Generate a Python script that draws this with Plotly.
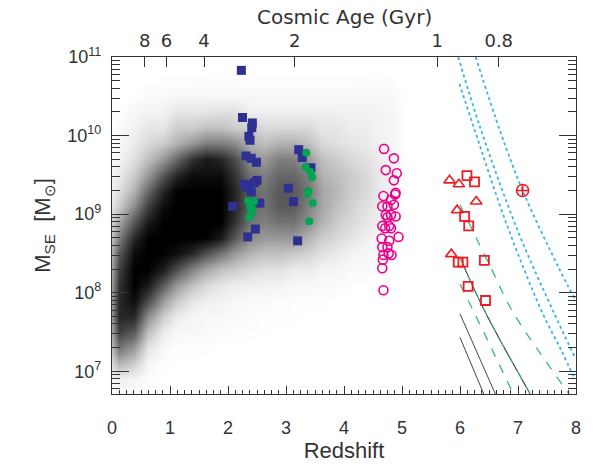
import math
import plotly.graph_objects as go

# ---------------- data ----------------
# density of the big black point cloud, coverage fraction 0..1
cloud_z = [-0.125 + 0.25 * i for i in range(22)]
cloud_logm = [round(6.7 + 0.2 * i, 2) for i in range(22)]
cloud_density = [
    [0, 0.02, 0.02, 0.005, 0, 0, 0, 0, 0, 0, 0, 0, 0, 0, 0, 0, 0, 0, 0, 0, 0, 0],
    [0, 0.06, 0.04, 0.01, 0.003, 0, 0, 0, 0, 0, 0, 0, 0, 0, 0, 0, 0, 0, 0, 0, 0, 0],
    [0, 0.3, 0.2, 0.04, 0.01, 0.005, 0.005, 0.003, 0.003, 0.002, 0, 0, 0, 0, 0, 0, 0, 0, 0, 0, 0, 0],
    [0, 0.55, 0.4, 0.1, 0.03, 0.01, 0.01, 0.01, 0.005, 0.005, 0.003, 0, 0, 0, 0, 0, 0, 0, 0, 0, 0, 0],
    [0, 0.75, 0.65, 0.25, 0.08, 0.03, 0.03, 0.02, 0.015, 0.01, 0.01, 0.008, 0.005, 0.005, 0.003, 0, 0, 0, 0, 0, 0, 0],
    [0, 0.85, 0.85, 0.45, 0.2, 0.08, 0.04, 0.03, 0.03, 0.02, 0.015, 0.01, 0.01, 0.01, 0.005, 0.005, 0.003, 0, 0, 0, 0, 0],
    [0, 0.85, 0.95, 0.7, 0.4, 0.2, 0.1, 0.06, 0.05, 0.03, 0.02, 0.02, 0.015, 0.01, 0.01, 0.01, 0.005, 0.003, 0, 0, 0, 0],
    [0, 0.8, 1.0, 0.9, 0.65, 0.4, 0.25, 0.15, 0.1, 0.07, 0.06, 0.05, 0.05, 0.03, 0.03, 0.02, 0.02, 0.01, 0.005, 0.003, 0, 0],
    [0, 0.75, 1.0, 1.0, 0.9, 0.7, 0.5, 0.35, 0.25, 0.2, 0.15, 0.12, 0.12, 0.08, 0.08, 0.04, 0.04, 0.02, 0.02, 0.008, 0.005, 0],
    [0, 0.65, 0.95, 1.0, 1.0, 0.95, 0.85, 0.7, 0.55, 0.4, 0.3, 0.25, 0.25, 0.22, 0.18, 0.12, 0.08, 0.05, 0.03, 0.015, 0.01, 0],
    [0, 0.5, 0.85, 1.0, 1, 1, 1, 1, 0.9, 0.65, 0.45, 0.4, 0.4, 0.4, 0.3, 0.2, 0.15, 0.1, 0.06, 0.03, 0.01, 0],
    [0, 0.35, 0.65, 0.9, 1, 1, 1, 1, 1, 0.8, 0.55, 0.5, 0.55, 0.55, 0.45, 0.3, 0.2, 0.15, 0.1, 0.05, 0.02, 0],
    [0, 0.2, 0.45, 0.75, 0.95, 1, 1, 1, 1, 0.85, 0.6, 0.55, 0.65, 0.65, 0.5, 0.35, 0.25, 0.18, 0.12, 0.07, 0.03, 0],
    [0, 0.12, 0.3, 0.6, 0.85, 1, 1, 1, 1, 0.85, 0.6, 0.55, 0.65, 0.65, 0.55, 0.35, 0.28, 0.2, 0.15, 0.08, 0.04, 0],
    [0, 0.08, 0.2, 0.4, 0.65, 0.85, 0.95, 0.95, 0.95, 0.8, 0.55, 0.5, 0.6, 0.6, 0.5, 0.3, 0.25, 0.2, 0.15, 0.08, 0.04, 0],
    [0, 0.05, 0.12, 0.25, 0.4, 0.6, 0.8, 0.9, 0.85, 0.7, 0.45, 0.4, 0.5, 0.5, 0.4, 0.25, 0.2, 0.15, 0.12, 0.07, 0.04, 0],
    [0, 0.03, 0.08, 0.15, 0.2, 0.3, 0.4, 0.5, 0.5, 0.45, 0.3, 0.25, 0.3, 0.3, 0.25, 0.15, 0.12, 0.1, 0.08, 0.05, 0.03, 0],
    [0, 0.02, 0.05, 0.1, 0.1, 0.2, 0.2, 0.25, 0.25, 0.2, 0.2, 0.15, 0.15, 0.15, 0.15, 0.1, 0.1, 0.07, 0.07, 0.04, 0.04, 0],
    [0, 0.01, 0.03, 0.05, 0.05, 0.1, 0.1, 0.1, 0.12, 0.12, 0.06, 0.06, 0.06, 0.06, 0.06, 0.06, 0.06, 0.05, 0.05, 0.05, 0.03, 0],
    [0, 0, 0.01, 0.02, 0.02, 0.03, 0.03, 0.03, 0.03, 0.03, 0.03, 0.03, 0.03, 0.03, 0.03, 0.03, 0.03, 0.03, 0.03, 0.03, 0.02, 0],
    [0, 0, 0, 0.005, 0.01, 0.01, 0.01, 0.015, 0.015, 0.01, 0.01, 0.01, 0.01, 0.01, 0.01, 0.01, 0.01, 0.01, 0.015, 0.015, 0.01, 0],
    [0, 0, 0, 0, 0, 0, 0, 0, 0, 0, 0, 0, 0, 0, 0, 0, 0, 0, 0, 0, 0, 0],
]

blue_z = [2.23, 2.25, 2.42, 2.41, 2.36, 2.38, 2.31, 2.40, 2.49, 2.28, 2.36, 2.50, 2.40,
          2.55, 2.08, 2.39, 2.47, 2.34, 3.22, 3.28, 3.43, 3.04, 3.13, 3.20, 2.33, 2.45]
blue_logm = [10.83, 10.23, 10.16, 10.10, 9.99, 9.94, 9.74, 9.71, 9.66, 9.38, 9.37, 9.43, 9.28,
             9.14, 9.10, 9.10, 8.81, 8.71, 9.82, 9.72, 9.59, 9.33, 9.16, 8.66, 9.34, 9.40]

green_z = [2.35, 2.45, 2.42, 2.40, 2.37, 2.38, 3.35, 3.34, 3.42, 3.45, 3.39, 3.37, 3.46, 3.40]
green_logm = [9.17, 9.16, 9.06, 9.02, 8.96, 9.09, 9.78, 9.60, 9.54, 9.47, 9.29, 9.26, 9.14, 8.91]

magenta_z = [4.69, 4.86, 4.72, 4.91, 4.86, 4.89, 4.88, 4.68, 4.81, 4.86, 4.66, 4.75, 4.72, 4.81,
             4.89, 4.75, 4.66, 4.78, 4.71, 4.81, 4.94, 4.65, 4.78, 4.66, 4.75, 4.82, 4.68, 4.77,
             4.67, 4.66, 4.68]
magenta_logm = [9.83, 9.71, 9.56, 9.52, 9.43, 9.27, 9.25, 9.23, 9.18, 9.12, 9.10, 9.10, 8.99, 8.99,
                8.97, 8.96, 8.85, 8.85, 8.82, 8.82, 8.71, 8.69, 8.66, 8.58, 8.58, 8.48, 8.48, 8.50,
                8.42, 8.31, 8.03]

red_tri_z = [5.82, 5.98, 6.28, 5.95, 5.85]
red_tri_logm = [9.43, 9.38, 9.16, 9.05, 8.49]
red_sq_z = [6.12, 6.25, 6.08, 6.15, 5.97, 6.05, 6.42, 6.14, 6.44]
red_sq_logm = [9.49, 9.41, 8.97, 8.85, 8.39, 8.39, 8.41, 8.08, 7.90]
red_plus_z = [7.08]
red_plus_logm = [9.30]

cyan_a_z = [5.99, 6.24, 6.80, 7.41, 7.75, 7.98]
cyan_a_logm = [10.66, 10.10, 8.88, 7.76, 7.26, 6.90]
cyan_b_z = [5.97, 6.35, 7.00, 7.61, 7.98]
cyan_b_logm = [11.0, 10.10, 8.78, 7.76, 7.18]
cyan_c_z = [6.27, 6.70, 7.08, 7.70, 7.98]
cyan_c_logm = [11.0, 10.04, 9.30, 8.32, 7.92]
green_d1_z = [6.00, 6.55, 6.89, 7.40, 7.88]
green_d1_logm = [9.12, 8.29, 7.78, 7.21, 6.71]
green_d2_z = [6.00, 6.21, 6.92]
green_d2_logm = [8.11, 7.80, 6.71]
dark_z = [6.01, 6.43, 7.21]
dark_logm = [8.43, 7.76, 6.71]
black1_z = [6.00, 6.61]
black1_logm = [7.73, 6.71]
black2_z = [6.00, 6.41]
black2_logm = [7.43, 6.71]

age_ticks = [8, 6, 4, 2, 1, 0.8]
age_labels = ["8", "6", "4", "2", "1", "0.8"]
ylog_range = [6.71, 11.0]


def z_of_age(t, h0=70.0, om=0.3):
    ol = 1.0 - om
    th = 977.8 / h0
    s = math.sinh(t * 1.5 * math.sqrt(ol) / th)
    return (math.sqrt(ol / om) / s) ** (2.0 / 3.0) - 1.0


def lin(v):
    return [10 ** x for x in v]


TXT = "#333333"
FONT = "Liberation Sans"

fig = go.Figure()

fig.add_trace(go.Heatmap(
    x=cloud_z, y=cloud_logm, z=cloud_density, xaxis="x", yaxis="y",
    colorscale=[[0, "rgba(255,255,255,0)"], [0.02, "rgb(250,250,250)"], [1, "black"]],
    zmin=0, zmax=1, zsmooth="best", showscale=False, hoverinfo="skip"))


def add_line(z, lm, color, dash, width):
    fig.add_trace(go.Scatter(x=z, y=lin(lm), xaxis="x", yaxis="y2", mode="lines",
                             line=dict(color=color, dash=dash, width=width, shape="spline"),
                             hoverinfo="skip"))


CY = "#33b5ea"
add_line(cyan_a_z, cyan_a_logm, CY, "dot", 1.8)
add_line(cyan_b_z, cyan_b_logm, CY, "dot", 1.8)
add_line(cyan_c_z, cyan_c_logm, CY, "dot", 1.8)
add_line(dark_z, dark_logm, "#2d3b32", "solid", 1.1)
add_line(black1_z, black1_logm, "#444444", "solid", 1.0)
add_line(black2_z, black2_logm, "#444444", "solid", 1.0)
GD = "#3cb878"
add_line(green_d1_z, green_d1_logm, GD, "dash", 1.3)
add_line(green_d2_z, green_d2_logm, GD, "dash", 1.3)
add_line(dark_z, dark_logm, GD, "dash", 1.0)

# markers
fig.add_trace(go.Scatter(x=blue_z, y=lin(blue_logm), xaxis="x", yaxis="y2", mode="markers",
                         marker=dict(symbol="square", size=9, color="#2e3192")))
fig.add_trace(go.Scatter(x=green_z, y=lin(green_logm), xaxis="x", yaxis="y2", mode="markers",
                         marker=dict(symbol="circle", size=8, color="#00a651")))
fig.add_trace(go.Scatter(x=magenta_z, y=lin(magenta_logm), xaxis="x", yaxis="y2", mode="markers",
                         marker=dict(symbol="circle-open", size=9, color="#ec008c",
                                     line=dict(width=1.6))))
fig.add_trace(go.Scatter(x=red_tri_z, y=lin(red_tri_logm), xaxis="x", yaxis="y2", mode="markers",
                         marker=dict(symbol="triangle-up-open", size=10, color="#ed1c24",
                                     line=dict(width=1.6))))
fig.add_trace(go.Scatter(x=red_sq_z, y=lin(red_sq_logm), xaxis="x", yaxis="y2", mode="markers",
                         marker=dict(symbol="square-open", size=9, color="#ed1c24",
                                     line=dict(width=1.8))))
fig.add_trace(go.Scatter(x=red_plus_z, y=lin(red_plus_logm), xaxis="x", yaxis="y2", mode="markers",
                         marker=dict(symbol="circle-cross-open", size=12, color="#ed1c24",
                                     line=dict(width=1.6))))
# anchor trace for the top (age) axis
fig.add_trace(go.Scatter(x=[None], y=[None], xaxis="x2", yaxis="y2", mode="markers",
                         showlegend=False, hoverinfo="skip"))

age_z = [z_of_age(t) for t in age_ticks]
minor_vals = [m * 10 ** d for d in range(6, 11) for m in range(2, 10)]

axis_common = dict(showgrid=False, zeroline=False, showline=True, linecolor=TXT, linewidth=1.3,
                   tickcolor=TXT, tickwidth=1, ticks="inside")

fig.update_layout(
    width=593, height=470,
    margin=dict(l=112, r=15, t=57, b=65),
    paper_bgcolor="white", plot_bgcolor="white", showlegend=False,
    font=dict(family=FONT, size=18, color=TXT),
    xaxis=dict(range=[0, 8], tick0=0, dtick=1, ticklen=8, ticklabelstandoff=17,
               minor=dict(ticks="inside", ticklen=4, dtick=0.125, tick0=0, tickcolor=TXT),
               title=dict(text="Redshift", standoff=5), **axis_common),
    xaxis2=dict(overlaying="x", side="top", anchor="y", range=[0, 8], tickmode="array",
                tickvals=age_z, ticktext=age_labels, ticklen=10, ticklabelstandoff=2,
                tickfont=dict(family="DejaVu Sans", size=18, color=TXT),
                **axis_common),
    yaxis=dict(range=ylog_range, visible=False, fixedrange=True),
    yaxis2=dict(overlaying="y", type="log", range=ylog_range, side="left", anchor="x",
                tickmode="array", tickvals=[10 ** d for d in range(7, 12)],
                ticktext=["10<sup>%d</sup>" % d for d in range(7, 12)],
                ticklen=17, mirror="ticks", ticklabelstandoff=6,
                minor=dict(ticks="inside", ticklen=8, tickmode="array", tickvals=minor_vals,
                           tickcolor=TXT),
                title=dict(text="M<sub>SE</sub>  [M<sub>\u2299</sub>]", standoff=10),
                **axis_common),
    annotations=[dict(text="Cosmic Age (Gyr)", xref="paper", yref="paper", x=0.5,
                      y=1 + (57.5 - 16) / 347.5, xanchor="center", yanchor="middle",
                      showarrow=False, font=dict(family="DejaVu Sans", size=20, color=TXT))],
)

fig.write_html("out.html")
